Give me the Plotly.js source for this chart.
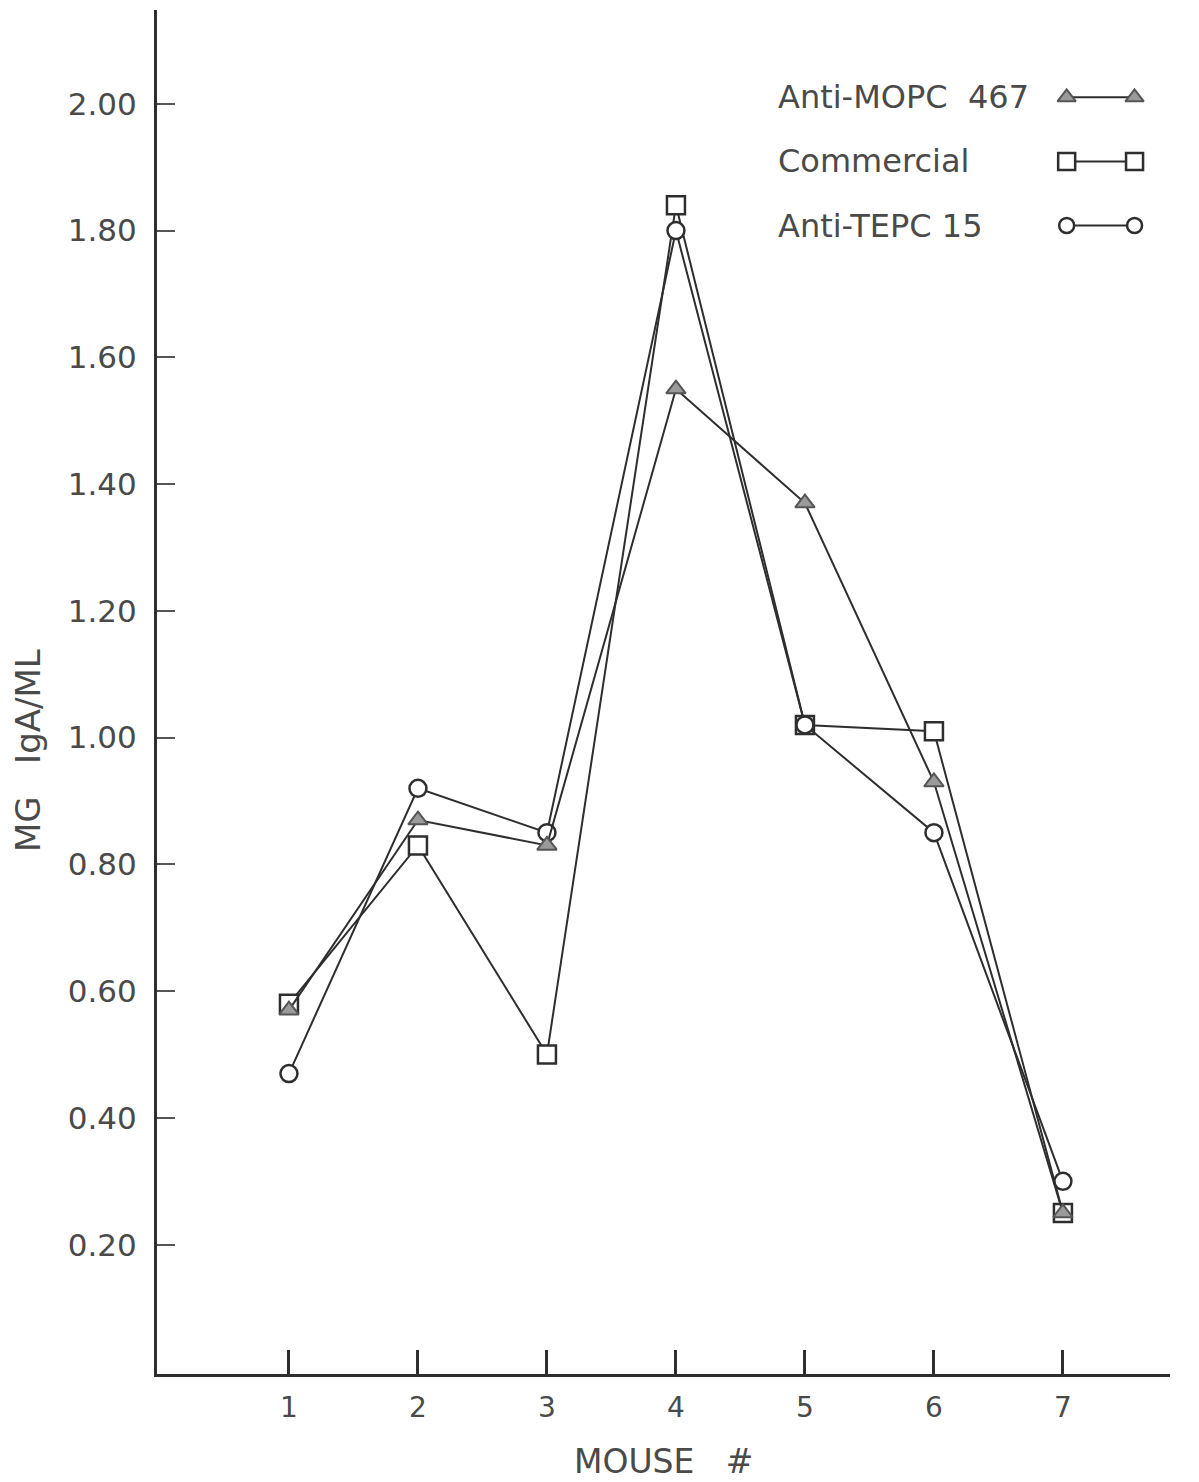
<!DOCTYPE html>
<html><head><meta charset="utf-8">
<script src="https://cdn.plot.ly/plotly-3.0.1.min.js"></script>
<style>html,body{margin:0;padding:0;background:#fff;}#chart{width:1199px;height:1482px;}</style>
</head><body><div id="chart"></div>
<script>
const mice = [1, 2, 3, 4, 5, 6, 7];
const antiMOPC = [0.57, 0.87, 0.83, 1.55, 1.37, 0.93, 0.25];
const commercial = [0.58, 0.83, 0.50, 1.84, 1.02, 1.01, 0.25];
const antiTEPC = [0.47, 0.92, 0.85, 1.80, 1.02, 0.85, 0.30];
const yTicks = [0.2, 0.4, 0.6, 0.8, 1.0, 1.2, 1.4, 1.6, 1.8, 2.0];
const yTickText = ["0.20","0.40","0.60","0.80","1.00","1.20","1.40","1.60","1.80","2.00"];
const seriesNames = ["Anti-MOPC  467", "Commercial", "Anti-TEPC 15"];

const ink = '#2e2e2e';
const txt = '#4a4a4a';
const FONT = 'DejaVu Sans, Liberation Sans, sans-serif';

const traces = [
  {x: mice, y: commercial, mode: 'lines+markers', name: seriesNames[1],
   line: {color: ink, width: 2},
   marker: {symbol: 'square', size: 18, color: '#fff', line: {color: ink, width: 2.5}}},
  {x: mice, y: antiTEPC, mode: 'lines+markers', name: seriesNames[2],
   line: {color: ink, width: 2},
   marker: {symbol: 'circle', size: 17, color: '#fff', line: {color: ink, width: 2.5}}},
  {x: mice, y: antiMOPC, mode: 'lines+markers', name: seriesNames[0],
   line: {color: ink, width: 2},
   marker: {symbol: 'triangle-up', size: 17, color: '#9a9a9a', line: {color: '#555', width: 2}}}
];

// legend samples on an overlay axis (0..1)
const legY = [0.936, 0.889, 0.842];
const legSym = [
  {symbol: 'triangle-up', size: 16, color: '#9a9a9a', line: {color: '#555', width: 2}},
  {symbol: 'square', size: 17, color: '#fff', line: {color: ink, width: 2.5}},
  {symbol: 'circle', size: 15, color: '#fff', line: {color: ink, width: 2.5}}
];
for (let i = 0; i < 3; i++) {
  traces.push({x: [0.898, 0.965], y: [legY[i], legY[i]], xaxis: 'x2', yaxis: 'y2',
    mode: 'lines+markers', showlegend: false, hoverinfo: 'skip',
    line: {color: ink, width: 2}, marker: legSym[i]});
}

const annotations = seriesNames.map((n, i) => ({
  text: n, xref: 'paper', yref: 'paper', x: 0.611, y: legY[i],
  xanchor: 'left', yanchor: 'middle', showarrow: false,
  font: {family: FONT, size: 32, color: txt}
}));
annotations.push({text: 'MG   IgA/ML', xref: 'paper', yref: 'paper', x: -0.128, y: 0.457,
  xanchor: 'center', yanchor: 'middle', textangle: -90, showarrow: false,
  font: {family: FONT, size: 34, color: txt}});
annotations.push({text: 'MOUSE   #', xref: 'paper', yref: 'paper', x: 0.5, y: -0.064,
  xanchor: 'center', yanchor: 'middle', showarrow: false,
  font: {family: FONT, size: 33, color: txt}});

const layout = {
  width: 1199, height: 1482,
  margin: {l: 157, r: 29, t: 10, b: 108},
  paper_bgcolor: '#fff', plot_bgcolor: '#fff',
  showlegend: false,
  font: {family: FONT, size: 30, color: txt},
  xaxis: {range: [-0.023, 7.83], tickvals: mice, ticktext: mice.map(String),
    ticks: 'inside', ticklen: 24, tickwidth: 3, tickcolor: ink,
    showline: true, linewidth: 3, linecolor: ink, showgrid: false, zeroline: false,
    ticklabelstandoff: 6, tickfont: {family: FONT, size: 28, color: txt}},
  yaxis: {range: [-0.004, 2.148], tickvals: yTicks, ticktext: yTickText,
    ticks: 'inside', ticklen: 18, tickwidth: 2, tickcolor: '#555',
    showline: true, linewidth: 3, linecolor: ink, showgrid: false, zeroline: false,
    ticklabelstandoff: 11, tickfont: {family: FONT, size: 31, color: txt}},
  xaxis2: {range: [0, 1], overlaying: 'x', visible: false, fixedrange: true},
  yaxis2: {range: [0, 1], overlaying: 'y', visible: false, fixedrange: true},
  annotations: annotations
};

Plotly.newPlot('chart', traces, layout, {displayModeBar: false, staticPlot: true});
</script></body></html>
